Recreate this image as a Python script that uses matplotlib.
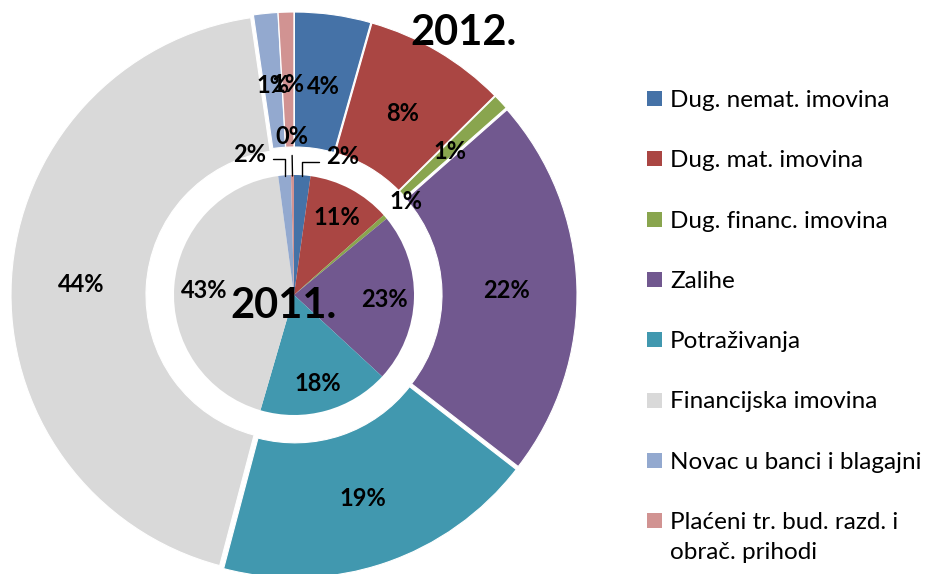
import matplotlib.pyplot as plt
from matplotlib.patches import Rectangle
import numpy as np

# Struktura imovine 2011. (unutarnji krug) i 2012. (vanjski prsten), u %
categories = ["Dug. nemat. imovina",
              "Dug. mat. imovina",
              "Dug. financ. imovina",
              "Zalihe",
              "Potraživanja",
              "Financijska imovina",
              "Novac u banci i blagajni",
              "Plaćeni tr. bud. razd. i\nobrač. prihodi"]
colors = ["#4572A7", "#AA4643", "#89A54E", "#71588F",
          "#4198AF", "#D9D9D9", "#93A9CF", "#D19392"]
share_2011 = [2.2, 11.2, 0.6, 22.8, 17.6, 43.3, 1.7, 0.4]
share_2012 = [4.4, 8.2, 0.9, 22.0, 18.6, 43.6, 1.4, 0.9]

W, H = 936, 574
CX, CY = 294, H - 295          # centre of both rings (pixel units, y up)
R_OUT, R_HOLE, R_IN = 280, 145, 120
EXPLODE = 3

# hand-placed callouts for the tiny inner slices (pixel coords, y down)
INNER_CALLOUTS = {0: (326, 155, "left"), 6: (266, 152, "right"),
                  7: (292, 135, "center")}

FONT = "Lato"


def mid_directions(values):
    v = np.asarray(values, dtype=float)
    frac = v / v.sum()
    mid = np.cumsum(frac) - frac / 2
    ang = np.deg2rad(90 - 360 * mid)
    return frac * 100, np.cos(ang), np.sin(ang)


def main():
    fig = plt.figure(figsize=(W / 100, H / 100), dpi=100)
    ax = fig.add_axes([0, 0, 1, 1])

    # Outer ring - 2012.
    ax.pie(share_2012, colors=colors, radius=R_OUT, center=(CX, CY),
           startangle=90, counterclock=False,
           explode=[EXPLODE] * len(share_2012),
           wedgeprops={"width": R_OUT - R_HOLE, "edgecolor": "white",
                       "linewidth": 0.8})
    # Inner pie - 2011.
    ax.pie(share_2011, colors=colors, radius=R_IN, center=(CX, CY),
           startangle=90, counterclock=False,
           wedgeprops={"linewidth": 0})

    ax.set_xlim(0, W)
    ax.set_ylim(0, H)
    ax.set_aspect("equal")
    ax.axis("off")

    lab = {"family": FONT, "fontweight": "bold", "fontsize": 17,
           "color": "black"}

    # Outer labels
    pct, dx, dy = mid_directions(share_2012)
    for p, ux, uy in zip(pct, dx, dy):
        r = 210 + EXPLODE
        ax.text(CX + r * ux, CY + r * uy, f"{p:.0f}%", ha="center",
                va="center_baseline", **lab)

    # Inner labels
    pct, dx, dy = mid_directions(share_2011)
    for i, (p, ux, uy) in enumerate(zip(pct, dx, dy)):
        if i in INNER_CALLOUTS:
            tx, ty, ha = INNER_CALLOUTS[i]
            if ha == "center":
                cs = "arc3"
                rel = (0.5, 0.0)
            else:
                cs = "angle,angleA=0,angleB=90,rad=0"
                rel = (0.0, 0.3) if ha == "left" else (1.0, 0.3)
            ax.annotate(f"{p:.0f}%", xy=(CX + 119 * ux, CY + 119 * uy),
                        xytext=(tx, H - ty), ha=ha, va="center_baseline",
                        arrowprops={"arrowstyle": "-", "color": "black",
                                    "lw": 1.0, "connectionstyle": cs,
                                    "relpos": rel, "shrinkA": 3,
                                    "shrinkB": 0},
                        **lab)
        else:
            r = 147 if p < 5 else 90
            ax.text(CX + r * ux, CY + r * uy, f"{p:.0f}%", ha="center",
                    va="center_baseline", **lab)

    # Year titles
    ax.text(463, H - 45, "2012.", ha="center", va="baseline", family=FONT,
            fontweight="bold", fontsize=30)
    ax.text(283, H - 318, "2011.", ha="center", va="baseline", family=FONT,
            fontweight="bold", fontsize=30)

    # Legend (one marker per entry, wrapped names drawn line by line)
    for i, (name, col) in enumerate(zip(categories, colors)):
        yc = H - (98.5 + 60.3 * i)
        ax.add_patch(Rectangle((647, yc - 7.5), 15, 15, facecolor=col,
                               edgecolor="none"))
        for k, line in enumerate(name.split("\n")):
            ax.text(670, yc - 30 * k, line, ha="left", va="center_baseline",
                    family=FONT, fontsize=17.5, color="black")

    fig.savefig("out.png", dpi=100)
    plt.close(fig)


if __name__ == "__main__":
    main()
